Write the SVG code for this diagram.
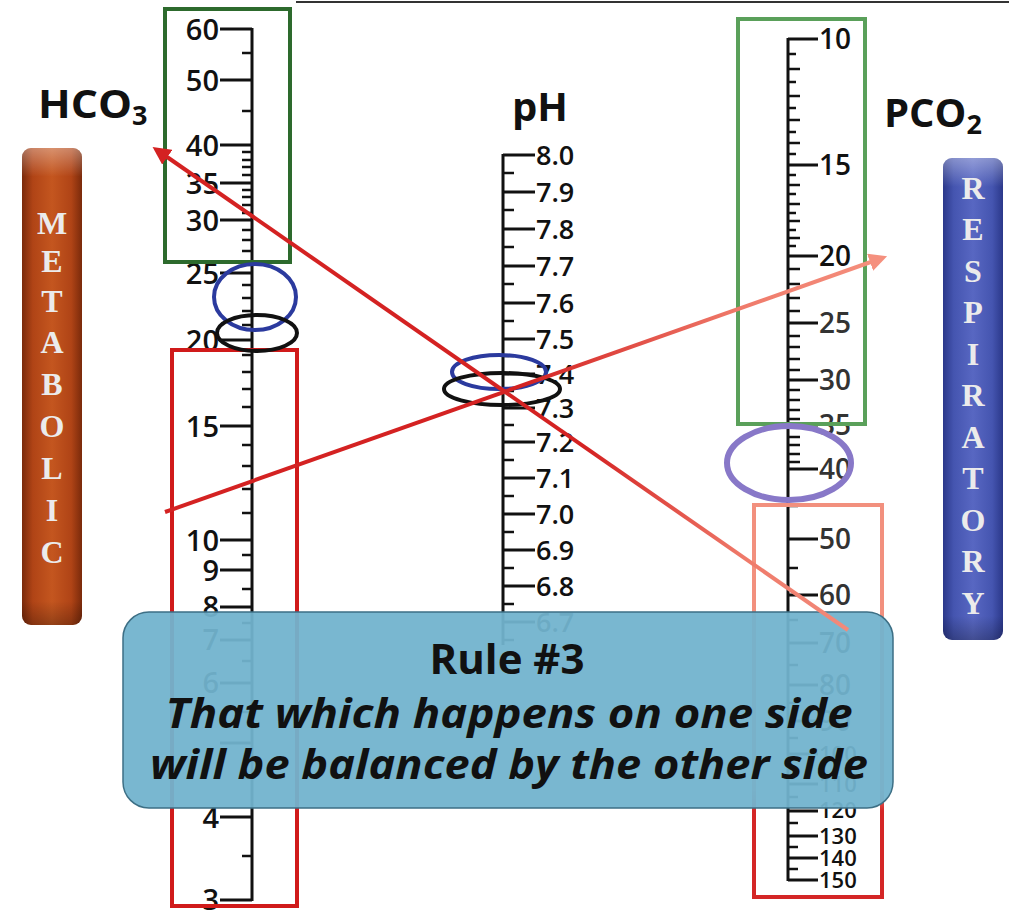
<svg xmlns="http://www.w3.org/2000/svg" width="1009" height="911" viewBox="0 0 1009 911">
<style>
.tk{stroke:#111;stroke-width:3;fill:none}
.mn{stroke:#111;stroke-width:2.5;fill:none}
.lb{font-family:"Open Sans","Liberation Sans",sans-serif;font-weight:600;fill:#111}
.lbl{font-size:29px;text-anchor:end}
.lbp{font-size:27px}
.lbr{font-size:28px}
.sm{font-size:22px}
.hd{font-family:"Open Sans","Liberation Sans",sans-serif;font-weight:700;font-size:40px;fill:#111}
.bl{font-family:"Liberation Serif","DejaVu Serif",serif;font-weight:700;font-size:32px;fill:#ebebeb;text-anchor:middle}
.el{fill:none;stroke-width:4}
.rt{font-family:"Open Sans","Liberation Sans",sans-serif;font-weight:700;fill:#111;text-anchor:middle}
</style>
<defs>
<linearGradient id="gMet" x1="0" y1="0" x2="1" y2="0">
<stop offset="0" stop-color="#7a2a0b"/><stop offset="0.18" stop-color="#b04416"/><stop offset="0.5" stop-color="#c4561f"/><stop offset="0.82" stop-color="#b04416"/><stop offset="1" stop-color="#7a2a0b"/>
</linearGradient>
<linearGradient id="gRes" x1="0" y1="0" x2="1" y2="0">
<stop offset="0" stop-color="#2b388a"/><stop offset="0.18" stop-color="#4555b0"/><stop offset="0.5" stop-color="#5867c2"/><stop offset="0.82" stop-color="#4555b0"/><stop offset="1" stop-color="#2b388a"/>
</linearGradient>
<linearGradient id="gL1" gradientUnits="userSpaceOnUse" x1="157" y1="0" x2="848" y2="0">
<stop offset="0" stop-color="#d42222"/><stop offset="0.62" stop-color="#d42222"/><stop offset="0.85" stop-color="#ef7a6a"/><stop offset="1" stop-color="#f28a7a"/>
</linearGradient>
<linearGradient id="gL2" gradientUnits="userSpaceOnUse" x1="165" y1="0" x2="882" y2="0">
<stop offset="0" stop-color="#d42222"/><stop offset="0.5" stop-color="#d42222"/><stop offset="0.8" stop-color="#ef7a6a"/><stop offset="1" stop-color="#f5907e"/>
</linearGradient>
<linearGradient id="gRB" gradientUnits="userSpaceOnUse" x1="0" y1="505" x2="0" y2="897">
<stop offset="0" stop-color="#f2907e"/><stop offset="0.72" stop-color="#f2907e"/><stop offset="0.78" stop-color="#d42626"/><stop offset="1" stop-color="#d42626"/>
</linearGradient>
<linearGradient id="gHi" x1="0" y1="0" x2="0" y2="1">
<stop offset="0" stop-color="#ffffff" stop-opacity="0.35"/><stop offset="0.06" stop-color="#ffffff" stop-opacity="0"/><stop offset="0.95" stop-color="#000000" stop-opacity="0"/><stop offset="1" stop-color="#000000" stop-opacity="0.25"/>
</linearGradient>
<marker id="aRed" viewBox="0 0 10 10" refX="7" refY="5" markerWidth="4.5" markerHeight="4.5" orient="auto-start-reverse"><path d="M0,0 L10,5 L0,10 z" fill="#d42222"/></marker>
<marker id="aSal" viewBox="0 0 10 10" refX="7" refY="5" markerWidth="4.5" markerHeight="4.5" orient="auto-start-reverse"><path d="M0,0 L10,5 L0,10 z" fill="#f5907e"/></marker>
</defs>
<rect x="0" y="0" width="1009" height="911" fill="#ffffff"/>
<line x1="296" y1="2" x2="1009" y2="2" stroke="#333" stroke-width="2"/>

<g id="hco3-label"><text class="hd" x="38" y="118"><tspan textLength="94" lengthAdjust="spacingAndGlyphs">HCO</tspan><tspan font-size="27" dy="7">3</tspan></text></g>
<g id="ph-label"><text class="hd" x="512" y="121">pH</text></g>
<g id="pco2-label"><text class="hd" x="884" y="127">PCO<tspan font-size="27" dy="7">2</tspan></text></g>

<g id="metabolic-bar">
<rect x="22" y="148" width="60" height="477" rx="9" fill="url(#gMet)"/>
<rect x="22" y="148" width="60" height="477" rx="9" fill="url(#gHi)"/>
<text class="bl" x="52" y="234">M</text><text class="bl" x="52" y="272">E</text><text class="bl" x="52" y="312">T</text><text class="bl" x="52" y="353">A</text><text class="bl" x="52" y="395">B</text><text class="bl" x="52" y="437">O</text><text class="bl" x="52" y="479">L</text><text class="bl" x="52" y="521">I</text><text class="bl" x="52" y="563">C</text>
</g>
<g id="respiratory-bar">
<rect x="943" y="158" width="60" height="482" rx="9" fill="url(#gRes)"/>
<rect x="943" y="158" width="60" height="482" rx="9" fill="url(#gHi)"/>
<text class="bl" x="973" y="199">R</text><text class="bl" x="973" y="240">E</text><text class="bl" x="973" y="282">S</text><text class="bl" x="973" y="323">P</text><text class="bl" x="973" y="365">I</text><text class="bl" x="973" y="406">R</text><text class="bl" x="973" y="448">A</text><text class="bl" x="973" y="489">T</text><text class="bl" x="973" y="531">O</text><text class="bl" x="973" y="572">R</text><text class="bl" x="973" y="614">Y</text>
</g>

<g id="hco3-scale">
<path class="tk" d="M252,28V901"/>
<path class="tk" d="M220,29H252M220,80H252M220,145H252M220,183H252M220,220H252M220,273H252M220,340H252M220,426H252M220,540H252M220,570H252M220,607H252M220,640H252M220,683H252M220,743H252M220,817H252M220,900H252"/>
<path class="mn" d="M242,53H252M242,111H252M242,152H252M242,160H252M242,167H252M242,175H252M242,190H252M242,197H252M242,205H252M242,213H252M242,230H252M242,240H252M242,251H252M242,262H252M242,285H252M242,298H252M242,311H252M242,325H252M242,355H252M242,372H252M242,389H252M242,407H252M242,445H252M242,466H252M242,489H252M242,513H252M242,555H252M242,589H252M242,623H252M242,661H252M242,712H252M242,778H252M242,856H252"/>
<g class="lb lbl">
<text x="219" y="40">60</text><text x="219" y="91">50</text><text x="219" y="156">40</text><text x="219" y="194">35</text><text x="219" y="231">30</text><text x="219" y="284">25</text><text x="219" y="351">20</text><text x="219" y="437">15</text><text x="219" y="551">10</text><text x="219" y="581">9</text><text x="219" y="617">8</text><text x="219" y="650">7</text><text x="219" y="693">6</text><text x="219" y="828">4</text><text x="219" y="910">3</text>
</g>
</g>

<g id="ph-scale">
<path class="tk" d="M503,154V645"/>
<path class="tk" d="M503,155H535M503,192H535M503,229H535M503,266H535M503,303H535M503,339H535M503,374H535M503,408H535M503,442H535M503,478H535M503,514H535M503,550H535M503,586H535M503,622H535"/>
<path class="mn" d="M503,173H514M503,210H514M503,247H514M503,284H514M503,321H514M503,356H514M503,391H514M503,425H514M503,460H514M503,496H514M503,532H514M503,568H514M503,604H514M503,640H514"/>
<g class="lb lbp">
<text x="536" y="165">8.0</text><text x="536" y="202">7.9</text><text x="536" y="239">7.8</text><text x="536" y="276">7.7</text><text x="536" y="313">7.6</text><text x="536" y="349">7.5</text><text x="536" y="384">7.4</text><text x="536" y="418">7.3</text><text x="536" y="452">7.2</text><text x="536" y="488">7.1</text><text x="536" y="524">7.0</text><text x="536" y="560">6.9</text><text x="536" y="596">6.8</text><text x="536" y="632">6.7</text>
</g>
</g>

<g id="pco2-scale">
<path class="tk" d="M788,38V881"/>
<path class="tk" d="M788,39H818M788,165H818M788,256H818M788,323H818M788,380H818M788,425H818M788,469H818M788,539H818M788,595H818M788,643H818M788,685H818M788,721H818M788,754H818M788,784H818M788,811H818M788,836H818M788,858H818M788,880H818"/>
<path class="mn" d="M788,54H796M788,69H800M788,82H796M788,96H800M788,108H796M788,120H800M788,132H796M788,143H800M788,154H796M788,175H796M788,185H800M788,194H796M788,204H800M788,213H796M788,221H800M788,230H796M788,238H800M788,246H796M788,269H800M788,284H800M788,298H800M788,311H800M788,336H800M788,347H800M788,359H800M788,370H800M788,390H800M788,400H800M788,410H800M788,419H800M788,437H800M788,445H800M788,454H800M788,462H800M788,506H798M788,568H798M788,620H798M788,665H798M788,703H798M788,738H798M788,769H798M788,797H798M788,823H798M788,847H798M788,869H798"/>
<g class="lb lbr">
<text x="819" y="49">10</text><text x="819" y="175">15</text><text x="819" y="266">20</text><text x="819" y="333" fill="#333">25</text><text x="819" y="390" fill="#333">30</text><text x="819" y="435" fill="#333">35</text><text x="819" y="479" fill="#333">40</text><text x="819" y="549" fill="#333">50</text><text x="819" y="605" fill="#333">60</text><text x="819" y="653">70</text><text x="819" y="695">80</text><text x="819" y="731">90</text>
<text class="sm" x="819" y="762">100</text><text class="sm" x="819" y="792">110</text><text class="sm" x="819" y="818">120</text><text class="sm" x="819" y="844">130</text><text class="sm" x="819" y="866">140</text><text class="sm" x="819" y="888">150</text>
</g>
</g>

<g id="range-boxes">
<rect x="165" y="9" width="125" height="253" fill="none" stroke="#2d6a2d" stroke-width="4"/>
<rect x="738" y="19" width="127" height="405" fill="none" stroke="#5aa05a" stroke-width="4"/>
<rect x="172" y="350" width="125" height="556" fill="none" stroke="#d01a1a" stroke-width="4"/>
<rect x="754" y="505" width="128" height="392" fill="none" stroke="url(#gRB)" stroke-width="4"/>
</g>

<g id="ellipses">
<ellipse class="el" cx="255" cy="297" rx="41" ry="33" stroke="#2b3a9e"/>
<ellipse class="el" cx="257" cy="333" rx="40" ry="18" stroke="#111"/>
<ellipse class="el" cx="499" cy="372" rx="47" ry="17" stroke="#2b3a9e"/>
<ellipse class="el" cx="502" cy="389" rx="58" ry="16" stroke="#111"/>
<ellipse cx="789" cy="463" rx="62" ry="37" fill="none" stroke="#8878c8" stroke-width="6"/>
</g>

<g id="rule-box">
<rect x="123" y="612" width="770" height="196" rx="26" fill="#72b3cd" fill-opacity="0.95" stroke="#3d6f85" stroke-width="1.5"/>
<text class="rt" x="507" y="674" font-size="42">Rule #3</text>
<text class="rt" x="509" y="728" font-size="41" font-style="italic" textLength="687" lengthAdjust="spacingAndGlyphs">That which happens on one side</text>
<text class="rt" x="509" y="779" font-size="41" font-style="italic" textLength="718" lengthAdjust="spacingAndGlyphs">will be balanced by the other side</text>
</g>

<g id="connectors">
<line x1="157" y1="150" x2="848" y2="630" stroke="url(#gL1)" stroke-width="4" marker-start="url(#aRed)"/>
<line x1="165" y1="512" x2="882" y2="258" stroke="url(#gL2)" stroke-width="4" marker-end="url(#aSal)"/>
</g>
</svg>
